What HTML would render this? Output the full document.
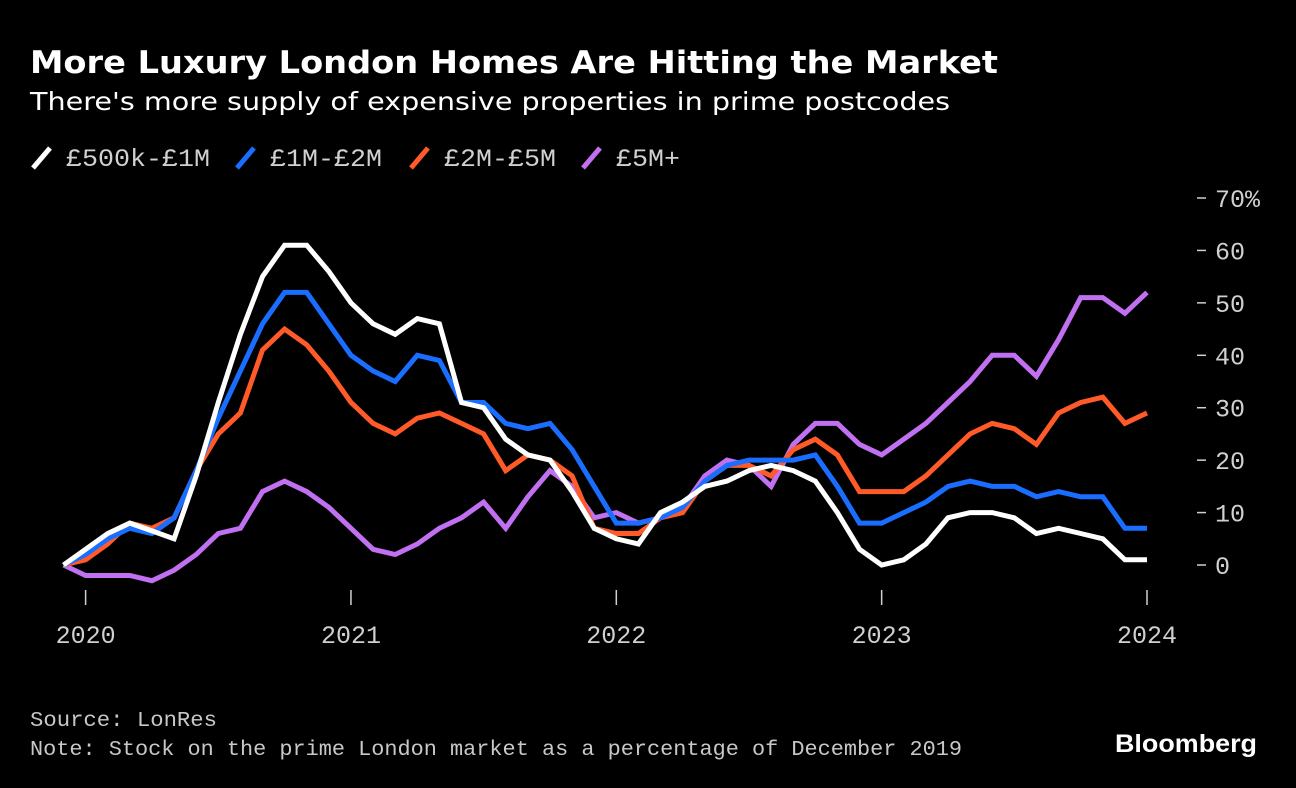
<!DOCTYPE html>
<html><head><meta charset="utf-8"><style>
html,body{margin:0;padding:0;background:#000;}
svg{display:block}
</style></head><body>
<svg id="chart" width="1296" height="788" viewBox="0 0 1296 788" xmlns="http://www.w3.org/2000/svg">
<rect width="1296" height="788" fill="#000"/>
<text x="30" y="73" fill="#fff" font-family="DejaVu Sans, Liberation Sans, sans-serif" font-weight="bold" font-size="31" textLength="968" lengthAdjust="spacingAndGlyphs">More Luxury London Homes Are Hitting the Market</text>
<text x="30" y="110" fill="#fff" font-family="DejaVu Sans, Liberation Sans, sans-serif" font-size="25" textLength="920" lengthAdjust="spacingAndGlyphs">There's more supply of expensive properties in prime postcodes</text>
<g id="legend" font-family="Liberation Mono, monospace" font-size="25" fill="#d0d0d0"></g>
<g id="yaxis" font-family="Liberation Mono, monospace" font-size="25" fill="#d0d0d0"></g>
<g id="xaxis" font-family="Liberation Mono, monospace" font-size="25" fill="#d0d0d0"></g>
<g id="series"></g>
<text x="30" y="726" fill="#c8c8c8" font-family="Liberation Mono, monospace" font-size="21" textLength="187" lengthAdjust="spacingAndGlyphs">Source: LonRes</text>
<text x="30" y="755" fill="#c8c8c8" font-family="Liberation Mono, monospace" font-size="21" textLength="932" lengthAdjust="spacingAndGlyphs">Note: Stock on the prime London market as a percentage of December 2019</text>
<text x="1115" y="752" fill="#fff" font-family="Liberation Sans, sans-serif" font-weight="bold" font-size="25" textLength="142" lengthAdjust="spacingAndGlyphs">Bloomberg</text>
</svg>
<script>
const seriesNames = ["£500k-£1M","£1M-£2M","£2M-£5M","£5M+"];
const seriesColors = ["#ffffff","#1a6eff","#ff5a28","#c070f0"];
const white = [0,3,6,8,6.5,5,17,31,44,55,61,61,56,50,46,44,47,46,31,30,24,21,20,14,7,5,4,10,12,15,16,18,19,18,16,10,3,0,1,4,9,10,10,9,6,7,6,5,1,1];
const blue = [0,2,5,7,6,9,18,28,37,46,52,52,46,40,37,35,40,39,31,31,27,26,27,22,15,8,8,9,11,16,19,20,20,20,21,15,8,8,10,12,15,16,15,15,13,14,13,13,7,7];
const orange = [0,1,4,8,7,9,18,25,29,41,45,42,37,31,27,25,28,29,27,25,18,21,20,17,7,6,6,9,10,16,19,19,17,22,24,21,14,14,14,17,21,25,27,26,23,29,31,32,27,29];
const purple = [0,-2,-2,-2,-3,-1,2,6,7,14,16,14,11,7,3,2,4,7,9,12,7,13,18,15,9,10,8,9,11,17,20,19,15,23,27,27,23,21,24,27,31,35,40,40,36,43,51,51,48,52];
const yTicks = [0,10,20,30,40,50,60,70];
const xTickLabels = ["2020","2021","2022","2023","2024"];

const NS = "http://www.w3.org/2000/svg";
function xScale(i){ return 63.5 + i*(1147-63.5)/49; }   // i = months since Dec 2019
function yScale(v){ return 565 - v*(565-198)/70; }
function mk(tag, attrs, parent){ const e=document.createElementNS(NS,tag); for(const k in attrs) e.setAttribute(k,attrs[k]); parent.appendChild(e); return e; }

const yg = document.getElementById('yaxis');
yTicks.forEach(t=>{
  const y=yScale(t);
  const l=mk('line',{x1:1197,x2:1206,y1:y,y2:y,stroke:'#d0d0d0','stroke-width':1.5},yg);
  
  
  const tx=mk('text',{x:1215,y:y+9},yg);
  
  
  tx.textContent = t===70 ? t+'%' : String(t);
});
const xg = document.getElementById('xaxis');
xTickLabels.forEach((lab,k)=>{
  const x=xScale(1+12*k);
  const l=mk('line',{x1:x,x2:x,y1:590,y2:605,stroke:'#d0d0d0','stroke-width':1.5},xg);
  
  
  const tx=mk('text',{x:x,y:643,'text-anchor':'middle'},xg);
  
  
  tx.textContent=lab;
});
const sg=document.getElementById('series');
[white,blue,orange,purple].slice().reverse().forEach((arr,ri)=>{
  const idx=3-ri;
  const pts=arr.map((v,i)=>xScale(i).toFixed(1)+','+yScale(v).toFixed(1)).join(' ');
  const p=mk('polyline',{points:pts,fill:'none',stroke:seriesColors[idx],'stroke-width':5,'stroke-linejoin':'miter','stroke-miterlimit':3},sg);
  
  
});
const lg=document.getElementById('legend');
const legendX=[30,234,408,580];
seriesNames.forEach((n,i)=>{
  const x=legendX[i];
  const g=mk('g',{},lg);
  
  
  mk('line',{x1:x+3,y1:168,x2:x+20,y2:148,stroke:seriesColors[i],'stroke-width':5},g);
  const t=mk('text',{x:x+36,y:166,textLength:n.length*16,lengthAdjust:'spacingAndGlyphs'},g);
  t.textContent=n;
});
</script>
</body></html>
